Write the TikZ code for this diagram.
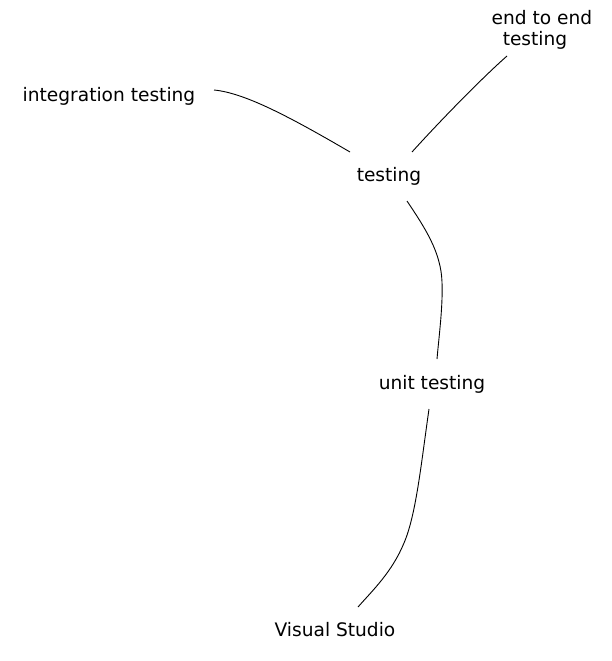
\documentclass[tikz,border=0pt]{standalone}
\usepackage{fontspec}
\setmainfont{DejaVu Sans}
\begin{document}
\begin{tikzpicture}[x=1pt,y=-1pt,
  lbl/.style={inner sep=0pt,align=center,font=\fontsize{18.6}{21}\selectfont},
  link/.style={draw=black,line width=0.9pt}]
\useasboundingbox (0,0) rectangle (611,661);
\node[lbl] (e2e) at (542,30) {end to end\\testing\rule{14pt}{0pt}};
\node[lbl] (int) at (109,96) {integration testing};
\node[lbl] (tst) at (389,176) {testing};
\node[lbl] (unit) at (432,384) {unit testing};
\node[lbl] (vs) at (335,630) {Visual Studio};
\draw[link] ([shift={(105,-6)}]int.center) .. controls (245,93) and (290,117) .. ([shift={(-39,-24)}]tst.center);
\draw[link] ([shift={(23,-24)}]tst.center) .. controls (440,121) and (482,78) .. ([shift={(-35,26)}]e2e.center);
\draw[link] ([shift={(18,25)}]tst.center) .. controls (425,228) and (441,252) .. (442,282) .. controls (443,306) and (439,336) .. ([shift={(5,-25)}]unit.center);
\draw[link] ([shift={(-3,25)}]unit.center) .. controls (421,465) and (416,515) .. (404,543) .. controls (392,572) and (373,590) .. ([shift={(23,-23)}]vs.center);
\end{tikzpicture}
\end{document}
